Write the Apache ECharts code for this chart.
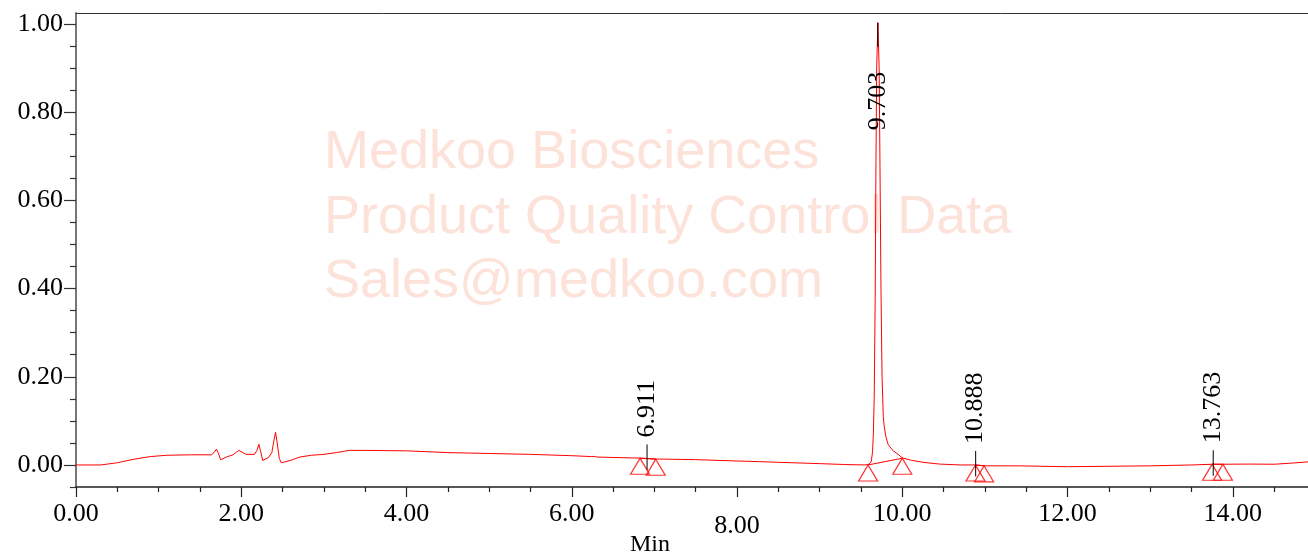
<!DOCTYPE html>
<html>
<head>
<meta charset="utf-8">
<script src="https://cdn.jsdelivr.net/npm/echarts@6/dist/echarts.min.js"></script>
<style>
html,body{margin:0;padding:0;background:#fff;}
#chart{width:1308px;height:555px;}
</style>
</head>
<body>
<div id="chart"></div>
<script>
// ---- data ----
var timeData = [
  0.00,0.30,0.50,0.70,0.90,1.10,1.40,1.64,1.67,1.70,1.72,1.75,1.78,1.82,1.90,1.94,1.97,2.01,2.06,2.16,
  2.19,2.213,2.235,2.26,2.28,2.33,2.37,2.395,2.415,2.435,2.46,2.484,2.53,2.59,2.71,2.85,3.00,3.15,3.31,3.50,
  4.00,4.50,5.00,5.50,6.00,6.24,6.27,6.30,6.50,6.83,6.91,7.02,7.50,8.00,8.27,8.50,9.00,9.30,9.55,9.60,
  9.625,9.64,9.65,9.66,9.672,9.68,9.69,9.705,9.72,9.73,9.742,9.755,9.77,9.78,9.80,9.83,9.89,9.95,10.00,10.10,
  10.25,10.45,10.70,10.89,11.00,11.42,12.00,12.50,13.00,13.50,13.76,13.88,14.20,14.50,14.70,14.91
];
var signalData = [
  0.000,0.000,0.005,0.013,0.019,0.022,0.023,0.023,0.028,0.036,0.028,0.012,0.014,0.018,0.023,0.029,0.033,0.029,0.024,0.024,
  0.033,0.047,0.030,0.010,0.008,0.017,0.028,0.055,0.074,0.050,0.015,0.005,0.007,0.010,0.018,0.022,0.024,0.028,0.033,0.033,
  0.032,0.028,0.026,0.024,0.021,0.019,0.0195,0.018,0.017,0.0155,0.0148,0.0135,0.012,0.009,0.0075,0.006,0.003,0.001,0.000,0.002,
  0.008,0.030,0.070,0.150,0.380,0.650,0.900,1.003,0.900,0.680,0.400,0.200,0.110,0.090,0.065,0.046,0.032,0.024,0.016,0.011,
  0.006,0.002,0.000,0.000,-0.002,-0.002,-0.004,-0.003,-0.002,0.000,0.0016,0.0016,0.002,0.0016,0.004,0.007
];
var peakRT = [6.911, 9.703, 10.888, 13.763];
var peakApex = [0.0148, 1.003, 0.000, 0.0016];
var peakLabels = ['6.911', '9.703', '10.888', '13.763'];
var baseStartT = [6.826, 9.586, 10.886, 13.75];
var baseStartV = [0.0152, 0.000, 0.000, 0.0016];
var baseEndT = [7.016, 10.00, 10.99, 13.88];
var baseEndV = [0.0130, 0.0152, -0.002, 0.0016];
var xTickLabels = [0, 2, 4, 6, 8, 10, 12, 14];
var xMinorTicks = [0.5,1,1.5,2.5,3,3.5,4.5,5,5.5,6.5,7,7.5,8.5,9,9.5,10.5,11,11.5,12.5,13,13.5,14.5];
var yTickLabels = [0, 0.2, 0.4, 0.6, 0.8, 1.0];
var yMinorTicks = [-0.05,0.05,0.1,0.15,0.25,0.3,0.35,0.45,0.5,0.55,0.65,0.7,0.75,0.85,0.9,0.95];
var watermark = ['Medkoo Biosciences', 'Product Quality Control Data', 'Sales@medkoo.com'];

// ---- chart ----
var FONT = '"Liberation Serif", "DejaVu Serif", serif';
var chart = echarts.init(document.getElementById('chart'));

var curve = timeData.map(function (t, i) { return [t, signalData[i]]; });
var tri = [];
baseStartT.forEach(function (t, i) { tri.push([t, baseStartV[i]]); tri.push([baseEndT[i], baseEndV[i]]); });

var baseSeries = baseStartT.map(function (t, i) {
  return {
    type: 'line', xAxisIndex: 0, yAxisIndex: 0, symbol: 'none', silent: true, z: 3,
    lineStyle: { color: '#ff0000', width: 1 },
    data: [[t, baseStartV[i]], [baseEndT[i], baseEndV[i]]]
  };
});

var WM_FONT = '54px "Liberation Sans", Arial, sans-serif';
var option = {
  animation: false,
  backgroundColor: '#ffffff',
  grid: { left: 76, right: 0, top: 13, bottom: 68, containLabel: false },
  xAxis: [
    {
      type: 'value', min: 0, max: 14.91, position: 'bottom',
      axisLine: { show: true, onZero: false, lineStyle: { color: '#222', width: 1.5 } },
      axisTick: { show: true, inside: false, length: 10, customValues: xTickLabels, lineStyle: { color: '#222', width: 1.2 } },
      axisLabel: {
        show: true, customValues: xTickLabels, margin: 14, color: '#000', fontFamily: FONT, fontSize: 26,
        formatter: function (v) { return v === 8 ? '{low|' + v.toFixed(2) + '}' : v.toFixed(2); },
        rich: { low: { fontFamily: FONT, fontSize: 26, color: '#000', padding: [12, 0, 0, 0] } }
      },
      splitLine: { show: false }
    },
    {
      type: 'value', min: 0, max: 14.91, position: 'bottom',
      axisLine: { show: false, onZero: false },
      axisTick: { show: true, inside: false, length: 5, customValues: xMinorTicks, lineStyle: { color: '#222', width: 1.2 } },
      axisLabel: { show: false }, splitLine: { show: false }
    },
    {
      type: 'value', min: 0, max: 14.91, position: 'top',
      axisLine: { show: true, onZero: false, lineStyle: { color: '#333', width: 1 } },
      axisTick: { show: false }, axisLabel: { show: false }, splitLine: { show: false }
    }
  ],
  yAxis: [
    {
      type: 'value', min: -0.05, max: 1.025, position: 'left',
      axisLine: { show: true, onZero: false, lineStyle: { color: '#777', width: 2 } },
      axisTick: { show: true, inside: false, length: 12, customValues: yTickLabels, lineStyle: { color: '#333', width: 1.2 } },
      axisLabel: {
        show: true, customValues: yTickLabels, margin: 13, color: '#000', fontFamily: FONT, fontSize: 26,
        formatter: function (v) { return v.toFixed(2); }
      },
      splitLine: { show: false }
    },
    {
      type: 'value', min: -0.05, max: 1.025, position: 'left',
      axisLine: { show: false, onZero: false },
      axisTick: { show: true, inside: false, length: 6, customValues: yMinorTicks, lineStyle: { color: '#333', width: 1.2 } },
      axisLabel: { show: false }, splitLine: { show: false }
    }
  ],
  graphic: [
    { type: 'text', x: 324, y: 126, z: 0, silent: true, style: { text: watermark[0], fill: '#fde2da', font: WM_FONT, align: 'left', verticalAlign: 'top' } },
    { type: 'text', x: 324, y: 191, z: 0, silent: true, style: { text: watermark[1], fill: '#fde2da', font: WM_FONT, align: 'left', verticalAlign: 'top' } },
    { type: 'text', x: 324, y: 255, z: 0, silent: true, style: { text: watermark[2], fill: '#fde2da', font: WM_FONT, align: 'left', verticalAlign: 'top' } },
    { type: 'text', x: 650, y: 533, z: 10, silent: true, style: { text: 'Min', fill: '#000', font: '24px "Liberation Serif", serif', align: 'center', verticalAlign: 'top' } }
  ],
  series: [
    {
      type: 'line', xAxisIndex: 0, yAxisIndex: 0, symbol: 'none', silent: true, z: 4,
      lineStyle: { color: '#ff0000', width: 1 },
      data: curve
    },
    {
      type: 'scatter', xAxisIndex: 0, yAxisIndex: 0, silent: true, z: 5,
      symbol: 'triangle', symbolSize: [19, 16], symbolOffset: [0, 8],
      itemStyle: { color: 'rgba(0,0,0,0)', borderColor: '#ff0000', borderWidth: 1.2 },
      data: tri
    },
    {
      type: 'custom', xAxisIndex: 0, yAxisIndex: 0, silent: true, z: 6,
      data: peakRT.map(function (t, i) { return [t, peakApex[i]]; }),
      renderItem: function (params, api) {
        var p = api.coord([api.value(0), api.value(1)]);
        var lbl = peakLabels[params.dataIndex];
        var high = api.value(1) > 0.5;
        var y1 = high ? p[1] : p[1] - 14;
        var y2 = high ? p[1] + 24 : p[1] + 11.5;
        return {
          type: 'group',
          children: [
            { type: 'line', shape: { x1: p[0], y1: y1, x2: p[0], y2: y2 }, style: { stroke: '#000', lineWidth: 1 } },
            {
              type: 'text', x: p[0], y: high ? p[1] + 49 : p[1] - 21, rotation: Math.PI / 2,
              style: { text: lbl, fill: '#000', font: '26px ' + FONT, align: high ? 'right' : 'left', verticalAlign: 'middle' }
            }
          ]
        };
      }
    }
  ].concat(baseSeries)
};
chart.setOption(option);
</script>
</body>
</html>
